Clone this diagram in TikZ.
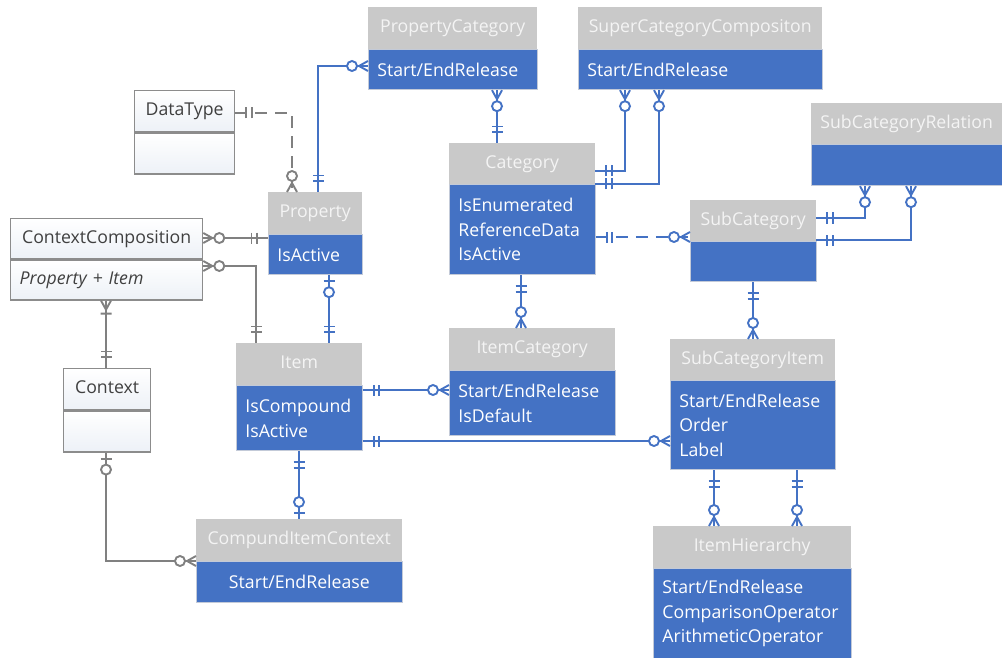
\documentclass[tikz,border=0pt]{standalone}
\usepackage{fontspec}
\setmainfont{Open Sans}
\usetikzlibrary{calc}
\definecolor{cblue}{HTML}{4472C4}
\definecolor{hgray}{HTML}{C9C9C9}
\definecolor{htext}{HTML}{F4F4F4}
\definecolor{lgray}{HTML}{808080}
\definecolor{bgray}{HTML}{8C8C8C}
\definecolor{tgray}{HTML}{404040}
\definecolor{gfill}{HTML}{EDF1F7}
\definecolor{edge}{HTML}{C3CAD8}
\tikzset{
  every node/.style={font=\fontsize{17.7}{24.5}\selectfont},
  hdr/.style={fill=hgray, text=htext, anchor=north west, inner sep=0pt, text height=13pt, text depth=4pt},
  bdy/.style={fill=cblue, draw=edge, line width=0.8pt, text=white, anchor=north west, inner xsep=9pt, inner ysep=0pt},
  gsec/.style={draw=bgray, line width=1.3pt, top color=white, bottom color=gfill, text=tgray, anchor=north west, inner xsep=9pt, inner ysep=0pt},
  bline/.style={draw=cblue, line width=1.9pt},
  gline/.style={draw=lgray, line width=1.9pt},
  bmk/.style={color=cblue, line width=1.9pt, solid},
  gmk/.style={color=lgray, line width=1.9pt, solid},
  mkone/.pic={\draw (11pt,-5.5pt)--(11pt,5.5pt) (16.5pt,-5.5pt)--(16.5pt,5.5pt);},
  mkzm/.pic={\draw (0pt,-5pt)--(9pt,0pt)--(0pt,5pt); \draw[fill=white] (16pt,0pt) circle (5pt);},
  mkzo/.pic={\draw (6pt,-5.5pt)--(6pt,5.5pt); \draw[fill=white] (17pt,0pt) circle (5pt);},
  mkom/.pic={\draw (0pt,-5pt)--(9pt,0pt)--(0pt,5pt) (13pt,-5.5pt)--(13pt,5.5pt);},
}
% blue entity: name, x, y, width, header h, body h, title, body, body align
\newcommand\ent[9]{%
  \node[hdr, minimum width=#4pt, minimum height=#5pt] (#1-h) at (#2,#3) {#7};
  \node[bdy, text width=#4pt-18pt, minimum height=#6pt, align=#9] (#1-b) at (#1-h.south west) {#8};}
% gray entity: name, x, y, width, h1, h2, title, body
\newcommand\gent[8]{%
  \node[gsec, text width=#4pt-18pt, align=center, minimum height=#5pt, text height=13pt, text depth=4pt] (#1-a) at (#2,#3) {#7};
  \node[gsec, text width=#4pt-18pt, align=left, minimum height=#6pt] (#1-b) at (#1-a.south west) {#8};}
\begin{document}
\begin{tikzpicture}[x=1pt, y=-1pt]
\useasboundingbox (0,0) rectangle (1002,658);
% entities
\ent{pc}{368}{7}{169}{42}{40}{PropertyCategory}{Start/EndRelease}{left}
\ent{scc}{578}{7}{244}{42}{40}{SuperCategoryCompositon}{Start/EndRelease}{left}
\gent{dt}{134}{90}{100}{41}{41}{DataType}{}
\ent{cat}{449}{143}{146}{41}{90}{Category}{IsEnumerated\\ReferenceData\\IsActive}{left}
\ent{scr}{811}{103}{191}{41}{41}{SubCategoryRelation}{}{left}
\ent{sub}{690}{200}{126}{41}{40}{SubCategory}{}{left}
\ent{prop}{268}{192}{94}{42}{40}{Property}{IsActive}{left}
\gent{cc}{10}{218}{192}{40}{40}{ContextComposition}{\itshape Property + Item}
\gent{ctx}{63}{368}{87}{41}{41}{Context}{}
\ent{item}{236}{343}{126}{42}{65}{Item}{IsCompound\\IsActive}{left}
\ent{ic}{449}{328}{166}{42}{65}{ItemCategory}{Start/EndRelease\\IsDefault}{left}
\ent{sci}{670}{339}{165}{41}{89}{SubCategoryItem}{Start/EndRelease\\Order\\Label}{left}
\ent{cic}{196}{519}{206}{42}{41}{CompundItemContext}{Start/EndRelease}{center}
\ent{ih}{653}{526}{198}{42}{90}{ItemHierarchy}{Start/EndRelease\\ComparisonOperator\\ArithmeticOperator}{left}
% connectors
% DataType - Property
\coordinate (c1a) at (dt-a.east |- 0,113);
\coordinate (c1b) at (prop-h.north -| 292,0);
\draw[gline, dash pattern=on 12pt off 8pt] (c1a) -| (c1b);
\pic[gmk] at (c1a) {mkone};
\pic[gmk, rotate=90] at (c1b) {mkzm};
% Property - PropertyCategory
\coordinate (c2a) at (prop-h.north -| 318,0);
\coordinate (c2b) at (pc-b.west |- 0,66);
\draw[bline] (c2a) |- (c2b);
\pic[bmk, rotate=90] at (c2a) {mkone};
\pic[bmk, rotate=180] at (c2b) {mkzm};
% PropertyCategory - Category
\coordinate (c3a) at (pc-b.south -| 497,0);
\coordinate (c3b) at (cat-h.north -| 497,0);
\draw[bline] (c3a) -- (c3b);
\pic[bmk, rotate=-90] at (c3a) {mkzm};
\pic[bmk, rotate=90] at (c3b) {mkone};
% SuperCategoryCompositon - Category
\coordinate (c4a) at (scc-b.south -| 625,0);
\coordinate (c4b) at (cat-h.east |- 0,171);
\draw[bline] (c4a) |- (c4b);
\pic[bmk, rotate=-90] at (c4a) {mkzm};
\pic[bmk] at (c4b) {mkone};
\coordinate (c4c) at (scc-b.south -| 659,0);
\coordinate (c4d) at (cat-h.east |- 0,184);
\draw[bline] (c4c) |- (c4d);
\pic[bmk, rotate=-90] at (c4c) {mkzm};
\pic[bmk] at (c4d) {mkone};
% Category - SubCategory
\coordinate (c5a) at (cat-b.east |- 0,237);
\coordinate (c5b) at (sub-h.west |- 0,237);
\draw[bline, dash pattern=on 12pt off 8pt] (c5a) -- (c5b);
\pic[bmk] at (c5a) {mkone};
\pic[bmk, rotate=180] at (c5b) {mkzm};
% SubCategory - SubCategoryRelation
\coordinate (c6a) at (sub-h.east |- 0,218);
\coordinate (c6b) at (scr-b.south -| 865,0);
\draw[bline] (c6a) -| (c6b);
\pic[bmk] at (c6a) {mkone};
\pic[bmk, rotate=-90] at (c6b) {mkzm};
\coordinate (c6c) at (sub-h.east |- 0,240);
\coordinate (c6d) at (scr-b.south -| 911,0);
\draw[bline] (c6c) -| (c6d);
\pic[bmk] at (c6c) {mkone};
\pic[bmk, rotate=-90] at (c6d) {mkzm};
% ContextComposition - Property
\coordinate (c7a) at (cc-a.east |- 0,238);
\coordinate (c7b) at (prop-b.west |- 0,238);
\draw[gline] (c7a) -- (c7b);
\pic[gmk] at (c7a) {mkzm};
\pic[gmk, rotate=180] at (c7b) {mkone};
% ContextComposition - Item
\coordinate (c8a) at (cc-b.east |- 0,266);
\coordinate (c8b) at (item-h.north -| 256,0);
\draw[gline] (c8a) -| (c8b);
\pic[gmk] at (c8a) {mkzm};
\pic[gmk, rotate=90] at (c8b) {mkone};
% ContextComposition - Context
\coordinate (c9a) at (cc-b.south -| 106,0);
\coordinate (c9b) at (ctx-a.north -| 106,0);
\draw[gline] (c9a) -- (c9b);
\pic[gmk, rotate=-90] at (c9a) {mkom};
\pic[gmk, rotate=90] at (c9b) {mkone};
% Context - CompundItemContext
\coordinate (c10a) at (ctx-b.south -| 106,0);
\coordinate (c10b) at (cic-h.west |- 0,561);
\draw[gline] (c10a) |- (c10b);
\pic[gmk, rotate=-90] at (c10a) {mkzo};
\pic[gmk, rotate=180] at (c10b) {mkzm};
% Property - Item
\coordinate (c11a) at (prop-b.south -| 329,0);
\coordinate (c11b) at (item-h.north -| 329,0);
\draw[bline] (c11a) -- (c11b);
\pic[bmk, rotate=-90] at (c11a) {mkzo};
\pic[bmk, rotate=90] at (c11b) {mkone};
% Item - ItemCategory
\coordinate (c12a) at (item-b.east |- 0,390);
\coordinate (c12b) at (ic-b.west |- 0,390);
\draw[bline] (c12a) -- (c12b);
\pic[bmk] at (c12a) {mkone};
\pic[bmk, rotate=180] at (c12b) {mkzm};
% Item - SubCategoryItem
\coordinate (c13a) at (item-b.east |- 0,441);
\coordinate (c13b) at (sci-b.west |- 0,441);
\draw[bline] (c13a) -- (c13b);
\pic[bmk] at (c13a) {mkone};
\pic[bmk, rotate=180] at (c13b) {mkzm};
% Item - CompundItemContext
\coordinate (c14a) at (item-b.south -| 299,0);
\coordinate (c14b) at (cic-h.north -| 299,0);
\draw[bline] (c14a) -- (c14b);
\pic[bmk, rotate=-90] at (c14a) {mkone};
\pic[bmk, rotate=90] at (c14b) {mkzo};
% Category - ItemCategory
\coordinate (c15a) at (cat-b.south -| 521,0);
\coordinate (c15b) at (ic-h.north -| 521,0);
\draw[bline] (c15a) -- (c15b);
\pic[bmk, rotate=-90] at (c15a) {mkone};
\pic[bmk, rotate=90] at (c15b) {mkzm};
% SubCategory - SubCategoryItem
\coordinate (c16a) at (sub-b.south -| 753,0);
\coordinate (c16b) at (sci-h.north -| 753,0);
\draw[bline] (c16a) -- (c16b);
\pic[bmk, rotate=-90] at (c16a) {mkone};
\pic[bmk, rotate=90] at (c16b) {mkzm};
% SubCategoryItem - ItemHierarchy
\coordinate (c17a) at (sci-b.south -| 714,0);
\coordinate (c17b) at (ih-h.north -| 714,0);
\draw[bline] (c17a) -- (c17b);
\pic[bmk, rotate=-90] at (c17a) {mkone};
\pic[bmk, rotate=90] at (c17b) {mkzm};
\coordinate (c17c) at (sci-b.south -| 797,0);
\coordinate (c17d) at (ih-h.north -| 797,0);
\draw[bline] (c17c) -- (c17d);
\pic[bmk, rotate=-90] at (c17c) {mkone};
\pic[bmk, rotate=90] at (c17d) {mkzm};
\end{tikzpicture}
\end{document}
